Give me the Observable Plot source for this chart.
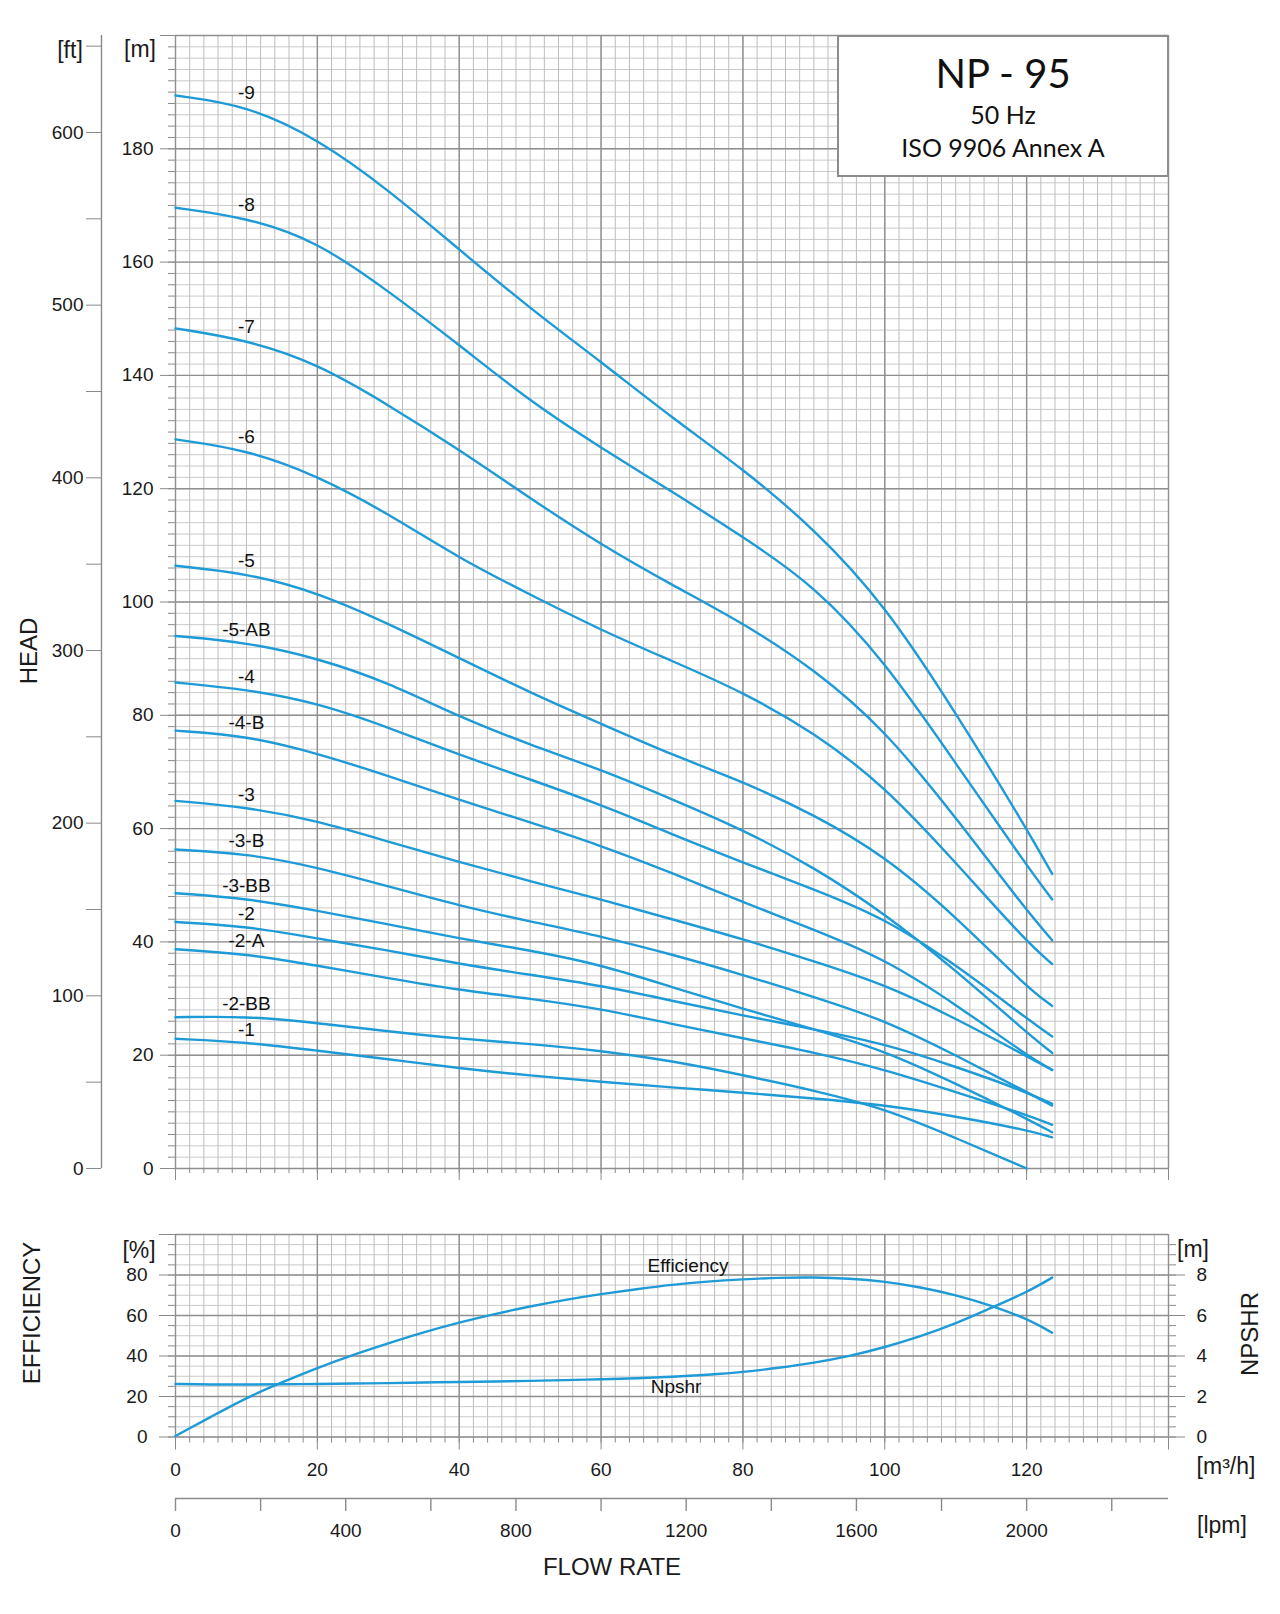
<!DOCTYPE html>
<html>
<head>
<meta charset="utf-8">
<script src="https://cdn.jsdelivr.net/npm/d3@7"></script>
<script src="https://cdn.jsdelivr.net/npm/@observablehq/plot@0.6"></script>
<style>
  body { margin: 0; background: #fff; }
  #page { position: relative; width: 1280px; height: 1614px; overflow: hidden; background: #fff;
          font-family: "Liberation Sans", Arial, Helvetica, sans-serif; color: #1a1a1a; }
  #top, #bot { position: absolute; left: 0; }
  #top { top: 0; }
  #bot { top: 1200px; }
  #top svg, #bot svg { display: block; }
  .lbl { position: absolute; transform: translate(-50%, -50%); white-space: nowrap; font-size: 23px; line-height: 1; }
  .rot { transform: translate(-50%, -50%) rotate(-90deg); font-size: 24px; }
  #titlebox { position: absolute; left: 837px; top: 35px; width: 332px; height: 142px; box-sizing: border-box;
              border: 2px solid #8c8c8c; background: #fff; }
  .tt { position: absolute; left: 50%; transform: translate(-50%, -50%); white-space: nowrap; line-height: 1;
        font-family: Lato, "Open Sans", "Liberation Sans", sans-serif; color: #111; }
</style>
</head>
<body>
<div id="page">
  <div id="top"></div>
  <div id="bot"></div>
  <div id="titlebox">
    <div class="tt" style="top:36px;font-size:40px;">NP - 95</div>
    <div class="tt" style="top:77px;font-size:25px;">50 Hz</div>
    <div class="tt" style="top:110px;font-size:25px;">ISO 9906 Annex A</div>
  </div>
  <div class="lbl" style="left:70px;top:50px;">[ft]</div>
  <div class="lbl" style="left:140px;top:49px;">[m]</div>
  <div class="lbl rot" style="left:29px;top:651px;">HEAD</div>
  <div class="lbl rot" style="left:32px;top:1313px;">EFFICIENCY</div>
  <div class="lbl rot" style="left:1250px;top:1334px;">NPSHR</div>
  <div class="lbl" style="left:139px;top:1250px;">[%]</div>
  <div class="lbl" style="left:1193px;top:1249px;">[m]</div>
  <div class="lbl" style="left:1226px;top:1466px;">[m³/h]</div>
  <div class="lbl" style="left:1222px;top:1525px;">[lpm]</div>
  <div class="lbl" style="left:612px;top:1567px;font-size:24px;">FLOW RATE</div>
</div>
<script>
// ---------- data (flow in m³/h, head in m) ----------
const FLOW = [0, 10, 20, 30, 40, 50, 60, 70, 80, 90, 100, 110, 120, 123.6];

const H_9    = [189.4, 187.7, 181.8, 172.8, 162.2, 151.8, 142.4, 132.5, 123.5, 113.0, 99.6, 80.5, 60.0, 52.0];
const H_8    = [169.6, 167.9, 163.7, 154.9, 145.4, 135.4, 127.2, 119.5, 111.5, 103.0, 89.6, 71.5, 53.5, 47.5];
const H_7    = [148.3, 146.3, 142.1, 134.8, 126.9, 118.3, 110.1, 103.0, 96.3, 88.2, 77.5, 62.0, 45.5, 40.3];
const H_6    = [128.7, 126.9, 122.3, 115.6, 107.7, 101.3, 95.0, 89.6, 84.1, 77.0, 67.5, 54.0, 40.0, 36.1];
const H_5    = [106.4, 105.1, 101.7, 96.2, 90.1, 84.0, 78.5, 73.0, 68.3, 62.5, 55.2, 44.5, 32.0, 28.7];
const H_5AB  = [94.0, 92.9, 90.1, 85.8, 79.7, 74.8, 70.4, 65.2, 59.8, 53.2, 45.0, 35.0, 24.0, 20.4];
const H_4    = [85.8, 84.6, 82.2, 77.9, 73.0, 68.7, 64.2, 59.0, 54.0, 49.3, 44.2, 36.0, 26.5, 23.3];
const H_4B   = [77.3, 76.4, 73.3, 69.3, 65.1, 61.1, 57.0, 52.2, 47.0, 42.2, 37.0, 29.0, 20.0, 17.4];
const H_3    = [64.9, 63.8, 61.4, 57.7, 54.1, 50.7, 47.5, 44.0, 40.5, 36.6, 32.5, 26.5, 19.8, 17.4];
const H_3B   = [56.3, 55.6, 53.2, 49.8, 46.4, 43.6, 41.0, 37.8, 34.2, 30.3, 26.2, 20.0, 13.5, 11.1];
const H_3BB  = [48.6, 47.7, 45.5, 43.1, 40.6, 38.5, 36.0, 32.0, 28.2, 24.6, 20.8, 15.0, 8.8, 6.4];
const H_2    = [43.5, 42.8, 40.6, 38.5, 36.1, 34.2, 32.3, 29.6, 27.0, 24.6, 22.0, 18.0, 13.5, 11.4];
const H_2A   = [38.7, 37.9, 35.8, 33.6, 31.5, 30.0, 28.2, 25.5, 23.0, 20.5, 17.5, 13.5, 9.5, 7.7];
const H_2BB  = [26.7, 26.9, 25.7, 24.2, 22.9, 22.0, 20.8, 19.0, 16.5, 13.8, 10.6, 5.4, 0.0, null];
const H_1    = [22.9, 22.3, 20.8, 19.3, 17.7, 16.4, 15.3, 14.3, 13.4, 12.4, 11.2, 9.2, 6.8, 5.5];

const MODELS = ["-9", "-8", "-7", "-6", "-5", "-5-AB", "-4", "-4-B", "-3", "-3-B", "-3-BB", "-2", "-2-A", "-2-BB", "-1"];
const HEADS  = [H_9, H_8, H_7, H_6, H_5, H_5AB, H_4, H_4B, H_3, H_3B, H_3BB, H_2, H_2A, H_2BB, H_1];

// efficiency (%) and NPSHr (m)
const FLOW_E = [0, 5, 10, 15, 20, 25, 30, 35, 40, 45, 50, 55, 60, 65, 70, 75, 80, 85, 90, 95, 100, 105, 110, 115, 120, 123.6];
const EFF    = [0.5, 10.0, 19.4, 27.0, 34.2, 40.6, 46.3, 51.8, 56.6, 60.8, 64.5, 67.8, 70.6, 73.0, 75.2, 76.8, 77.9, 78.7, 78.9, 78.3, 76.8, 74.0, 70.2, 65.0, 58.5, 51.5];
const NPSH   = [2.62, 2.59, 2.59, 2.60, 2.62, 2.64, 2.66, 2.69, 2.72, 2.74, 2.77, 2.81, 2.85, 2.90, 2.97, 3.07, 3.20, 3.41, 3.66, 3.99, 4.43, 4.96, 5.60, 6.38, 7.14, 7.87];

// tick values
const X_MAJOR = [0, 20, 40, 60, 80, 100, 120, 140];
const X_MINOR = d3.range(0, 141, 2);
const H_MAJOR = [0, 20, 40, 60, 80, 100, 120, 140, 160, 180, 200];
const H_MINOR = d3.range(0, 201, 2);
const FT_TICKS = d3.range(0, 651, 50);
const E_MAJOR = [0, 20, 40, 60, 80, 100];
const E_MINOR = d3.range(0, 101, 5);
const N_MAJOR = [0, 2, 4, 6, 8];
const LPM_TICKS = d3.range(0, 2201, 200);

const FT = 0.3048, LPM = 0.06;

// ---------- styling ----------
const BLUE = "#1e9bd7";
const G_MIN_H = "#cacaca", G_MIN_V = "#bdbdbd", G_MAJ = "#8f8f8f", AX = "#8a8a8a";
const FONT = '"Liberation Sans", Arial, Helvetica, sans-serif';
const CURVE = "basis";

// ---------- tables ----------
const headRows = MODELS.flatMap((m, i) =>
  FLOW.map((q, j) => ({model: m, q, h: HEADS[i][j]})).filter(d => d.h != null));
const labelRows = MODELS.map((m, i) => ({model: m, q: FLOW[1], h: HEADS[i][1]}));
const effRows = FLOW_E.map((q, j) => ({q, v: EFF[j]}));
const npshRows = FLOW_E.map((q, j) => ({q, v: NPSH[j]}));
const effLabel = [{q: 70, v: EFF[FLOW_E.indexOf(70)], t: "Efficiency"}];
const npshLabel = [{q: 70, v: NPSH[FLOW_E.indexOf(70)] * 10, t: "Npshr"}];

const blank = () => "";

// ---------- top: head chart ----------
const topPlot = Plot.plot({
  width: 1280, height: 1200,
  marginLeft: 175, marginRight: 112, marginTop: 35, marginBottom: 32,
  x: {domain: [0, 140]},
  y: {domain: [0, 200]},
  style: {fontFamily: FONT, fontSize: "19px", color: "#1a1a1a", background: "transparent"},
  marks: [
    Plot.ruleY(H_MINOR, {stroke: G_MIN_H, strokeWidth: 1}),
    Plot.ruleX(X_MINOR, {stroke: G_MIN_V, strokeWidth: 1}),
    Plot.ruleY(H_MAJOR, {stroke: G_MAJ, strokeWidth: 1.4}),
    Plot.ruleX(X_MAJOR, {stroke: G_MAJ, strokeWidth: 1.4}),
    Plot.axisY({ticks: H_MINOR, anchor: "left", tickSize: 7, tickFormat: blank, stroke: AX, label: null}),
    Plot.axisY({ticks: H_MAJOR, anchor: "left", tickSize: 15, tickPadding: 7, stroke: AX, label: null,
                fontSize: 19, fill: "#1a1a1a", tickFormat: d => d === 200 ? "" : String(d)}),
    Plot.axisX({ticks: X_MINOR, anchor: "bottom", tickSize: 5, tickFormat: blank, stroke: AX, label: null}),
    Plot.axisX({ticks: X_MAJOR, anchor: "bottom", tickSize: 12, tickFormat: blank, stroke: AX, label: null}),
    // feet axis
    Plot.ruleX([0], {y1: 0, y2: 200, dx: -74, stroke: AX, strokeWidth: 1.4}),
    Plot.axisY({ticks: FT_TICKS.map(f => f * FT), anchor: "left", dx: -74, tickSize: 15, tickPadding: 3,
                stroke: AX, label: null, fontSize: 19, fill: "#1a1a1a",
                tickFormat: d => { const f = Math.round(d / FT); return f % 100 === 0 ? String(f) : ""; }}),
    Plot.line(headRows, {x: "q", y: "h", z: "model", stroke: BLUE, strokeWidth: 2.4, curve: CURVE}),
    Plot.text(labelRows, {x: "q", y: "h", text: "model", dy: -12.5, fontSize: 19, fill: "#111",
                          ariaLabel: "curve-label"})
  ]
});
document.getElementById("top").appendChild(topPlot);

// ---------- bottom: efficiency / NPSHr chart ----------
const botPlot = Plot.plot({
  width: 1280, height: 414,
  marginLeft: 175, marginRight: 112, marginTop: 34, marginBottom: 177.5,
  x: {domain: [0, 140]},
  y: {domain: [0, 100]},
  style: {fontFamily: FONT, fontSize: "19px", color: "#1a1a1a", background: "transparent"},
  marks: [
    Plot.ruleY(E_MINOR, {stroke: G_MIN_H, strokeWidth: 1}),
    Plot.ruleX(X_MINOR, {stroke: G_MIN_V, strokeWidth: 1}),
    Plot.ruleY(E_MAJOR, {stroke: G_MAJ, strokeWidth: 1.4}),
    Plot.ruleX(X_MAJOR, {stroke: G_MAJ, strokeWidth: 1.4}),
    Plot.axisY({ticks: E_MINOR, anchor: "left", tickSize: 7, tickFormat: blank, stroke: AX, label: null}),
    Plot.axisY({ticks: E_MAJOR, anchor: "left", tickSize: 16, tickPadding: 12, stroke: AX, label: null,
                fontSize: 19, fill: "#1a1a1a", tickFormat: d => d === 100 ? "" : String(d)}),
    Plot.axisY({ticks: E_MINOR.filter(d => d < 100), anchor: "right", tickSize: 7, tickFormat: blank, stroke: AX, label: null}),
    Plot.axisY({ticks: N_MAJOR.map(n => n * 10), anchor: "right", tickSize: 16, tickPadding: 12, stroke: AX, label: null,
                fontSize: 19, fill: "#1a1a1a", tickFormat: d => String(d / 10)}),
    Plot.axisX({ticks: X_MINOR, anchor: "bottom", tickSize: 6, tickFormat: blank, stroke: AX, label: null}),
    Plot.axisX({ticks: X_MAJOR, anchor: "bottom", tickSize: 13, tickPadding: 12, stroke: AX, label: null,
                fontSize: 19, fill: "#1a1a1a", tickFormat: d => d === 140 ? "" : String(d)}),
    // litres per minute axis
    Plot.ruleY([0], {x1: 0, x2: 140, dy: 61.5, stroke: AX, strokeWidth: 1.6}),
    Plot.axisX({ticks: LPM_TICKS.map(l => l * LPM), anchor: "bottom", dy: 61.5, tickSize: 13, tickPadding: 12,
                stroke: AX, strokeWidth: 1.4, label: null, fontSize: 19, fill: "#1a1a1a",
                tickFormat: d => { const l = Math.round(d / LPM); return l % 400 === 0 ? String(l) : ""; }}),
    Plot.line(effRows, {x: "q", y: "v", stroke: BLUE, strokeWidth: 2.4, curve: CURVE}),
    Plot.line(npshRows, {x: "q", y: d => d.v * 10, stroke: BLUE, strokeWidth: 2.4, curve: CURVE}),
    Plot.text(effLabel, {x: "q", y: "v", text: "t", dx: 16, dy: -19, fontSize: 19, fill: "#111", ariaLabel: "curve-label"}),
    Plot.text(npshLabel, {x: "q", y: "v", text: "t", dx: 4, dy: 10.5, fontSize: 19, fill: "#111", ariaLabel: "curve-label"})
  ]
});
document.getElementById("bot").appendChild(botPlot);

// white label boxes behind curve labels
for (const svg of [topPlot, botPlot]) {
  d3.select(svg).selectAll('g[aria-label="curve-label"] text').each(function () {
    const b = this.getBBox();
    const t = this.getAttribute("transform");
    const r = document.createElementNS("http://www.w3.org/2000/svg", "rect");
    r.setAttribute("x", b.x - 2);
    r.setAttribute("y", b.y + 1);
    r.setAttribute("width", b.width + 4);
    r.setAttribute("height", b.height - 1);
    r.setAttribute("fill", "#fff");
    r.setAttribute("stroke", "#c8c8c8");
    r.setAttribute("stroke-width", "1");
    if (t) r.setAttribute("transform", t);
    this.parentNode.insertBefore(r, this);
  });
}
</script>
</body>
</html>
